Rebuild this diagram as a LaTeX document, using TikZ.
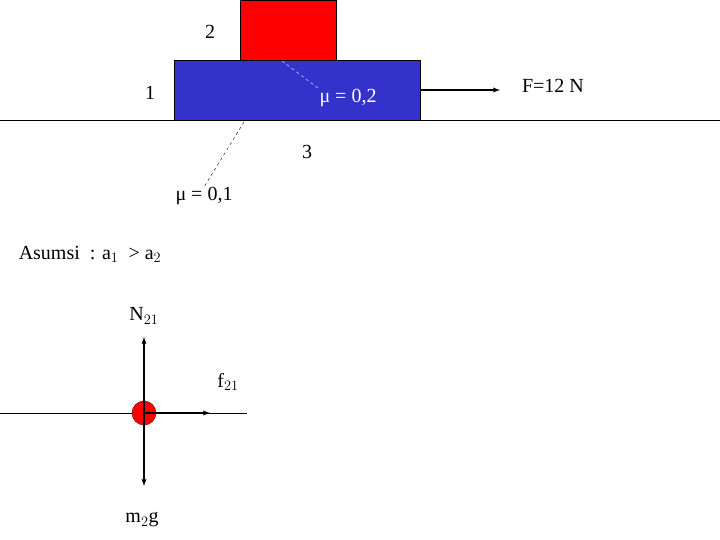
\documentclass[tikz,border=0pt]{standalone}
\usepackage{fontspec}
\setmainfont{Liberation Serif}
\begin{document}
\begin{tikzpicture}[x=1pt,y=-1pt,
  lbl/.style={font=\fontsize{20}{22}\selectfont,inner sep=0pt},
  arr/.style={-latex,line width=1.3pt}]
\useasboundingbox (0,0) rectangle (720,540);
\node[draw=black,fill=red,minimum width=96pt,minimum height=60pt,inner sep=0pt] (b2) at (288,30) {};
\node[draw=black,fill={rgb,255:red,51;green,51;blue,204},minimum width=246pt,minimum height=60pt,inner sep=0pt] (b1) at (297,90) {};
\coordinate (gl) at (0,120); \coordinate (gr) at (720,120);
\draw (gl) -- (gr);
\node[lbl] (l2) at (210,32) {2};
\node[lbl] (l1) at (150,93) {1};
\node[lbl] (l3) at (307,152) {3};
\node[lbl,text=white] (mu2) at (348,98) {μ = 0,2};
\coordinate (c2) at (282,61);
\draw[white,dashed,line width=0.4pt] (c2) -- (mu2.north west);
\node[lbl] (mu1) at (204,196) {μ = 0,1};
\coordinate (c1) at (244,122);
\draw[dashed,line width=0.4pt] (c1) -- (mu1.north);
\coordinate (fe) at (500,90);
\draw[arr] (b1.east) -- (fe);
\node[lbl] (F) at (553,86) {F=12 N};
\node[lbl] (as) at (90,254) {Asumsi\ \ : a$_1$\ \ > a$_2$};
\coordinate (hl) at (0,413); \coordinate (hr) at (247,413);
\draw (hl) -- (hr);
\node[circle,draw=black!70!red,fill=red,minimum size=24pt,inner sep=0pt] (m) at (144,413) {};
\coordinate (up) at (144,337); \coordinate (dn) at (144,486); \coordinate (rt) at (210,413);
\draw[arr] (m.center) -- (up);
\draw[arr] (m.center) -- (dn);
\draw[arr] (m.center) -- (rt);
\node[lbl] (N) at (144,316) {N$_{21}$};
\node[lbl] (f) at (228,382) {f$_{21}$};
\node[lbl] (mg) at (142,520) {m$_2$g};
\end{tikzpicture}
\end{document}
